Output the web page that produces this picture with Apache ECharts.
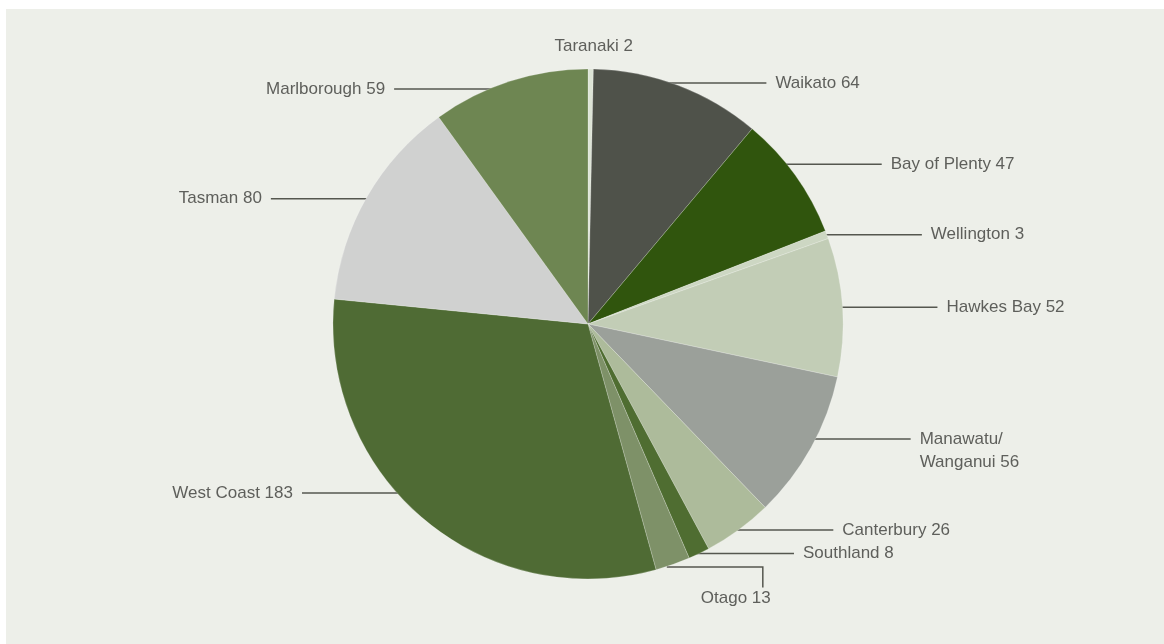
<!DOCTYPE html>
<html>
<head>
<meta charset="utf-8">
<script src="https://cdn.jsdelivr.net/npm/echarts@6/dist/echarts.min.js"></script>
<style>
html,body{margin:0;padding:0;background:#ffffff;}
#chart{width:1164px;height:644px;}
</style>
</head>
<body>
<div id="chart"></div>
<script>
// ---- data ----
const regions = ['Taranaki', 'Waikato', 'Bay of Plenty', 'Wellington', 'Hawkes Bay', 'Manawatu/\nWanganui',
  'Canterbury', 'Southland', 'Otago', 'West Coast', 'Tasman', 'Marlborough'];
const counts = [2, 64, 47, 3, 52, 56, 26, 8, 13, 183, 80, 59];

// ---- styles ----
const sliceColors = ['#dde4d6', '#4f524a', '#30550d', '#cdd7c3', '#c2cdb6', '#9ba09a',
  '#adbb9b', '#4f6d31', '#7e9168', '#4f6b34', '#d0d1d0', '#6e8652'];
// where along each slice's arc the leader line starts (0..1), default 0.5
const anchorFrac = {'Waikato': 0.46, 'Bay of Plenty': 0.39, 'Manawatu/\nWanganui': 0.435,
  'West Coast': 0.576, 'Tasman': 0.49, 'Marlborough': 0.363};

const CX = 588, CY = 324, R = 255, LEAD = 95, GAP = 9, LH = 23;
const total = counts.reduce((a, b) => a + b, 0);

const chart = echarts.init(document.getElementById('chart'), null, {renderer: 'canvas'});

function layoutLabel(params) {
  const i = params.dataIndex;
  let before = 0;
  for (let k = 0; k < i; k++) before += counts[k];
  const a0 = before / total * 2 * Math.PI;
  const a1 = (before + counts[i]) / total * 2 * Math.PI;
  const f = anchorFrac[regions[i]] !== undefined ? anchorFrac[regions[i]] : 0.5;
  const th = a0 + f * (a1 - a0);
  const ex = CX + R * Math.sin(th);
  const ey = CY - R * Math.cos(th);
  const name = regions[i];
  if (name === 'Taranaki') {
    return {x: ex + 3, y: ey - 23 - LH / 2, align: 'center', verticalAlign: 'top', labelLinePoints: [[ex, ey], [ex, ey], [ex, ey]]};
  }
  if (name === 'Otago') {
    const cx2 = ex + 90;
    return {x: ex + 63, y: ey + 34 - LH / 2, align: 'center', verticalAlign: 'top',
      labelLinePoints: [[ex - 6, ey + 2.5], [cx2, ey + 2.5], [cx2, ey + 23]]};
  }
  const dir = Math.sin(th) >= 0 ? 1 : -1;
  const x2 = ex + dir * LEAD;
  return {
    x: x2 + dir * GAP,
    y: ey - LH / 2,
    align: dir > 0 ? 'left' : 'right',
    verticalAlign: 'top',
    labelLinePoints: [[ex - dir * 6, ey], [ex - dir * 6, ey], [x2, ey]]
  };
}

chart.setOption({
  animation: false,
  backgroundColor: '#ffffff',
  graphic: [{type: 'rect', z: -10, silent: true,
    shape: {x: 6, y: 9, width: 1158, height: 635}, style: {fill: '#edefe9'}}],
  series: [{
    type: 'pie',
    center: [CX, CY],
    radius: R,
    startAngle: 90,
    clockwise: true,
    avoidLabelOverlap: false,
    itemStyle: {borderColor: 'rgba(255,255,255,0.35)', borderWidth: 0.6},
    label: {
      show: true,
      position: 'outside',
      formatter: '{b} {c}',
      fontFamily: 'Liberation Sans, Arial, sans-serif',
      fontSize: 17,
      lineHeight: LH,
      color: '#5e5f5b'
    },
    labelLine: {show: true, length: 1, length2: LEAD, lineStyle: {color: '#55574f', width: 1.5}},
    labelLayout: layoutLabel,
    emphasis: {disabled: true},
    data: regions.map((n, i) => ({
      name: n, value: counts[i],
      itemStyle: {color: sliceColors[i]},
      labelLine: n === 'Taranaki' ? {show: false} : undefined
    }))
  }]
});
</script>
</body>
</html>
